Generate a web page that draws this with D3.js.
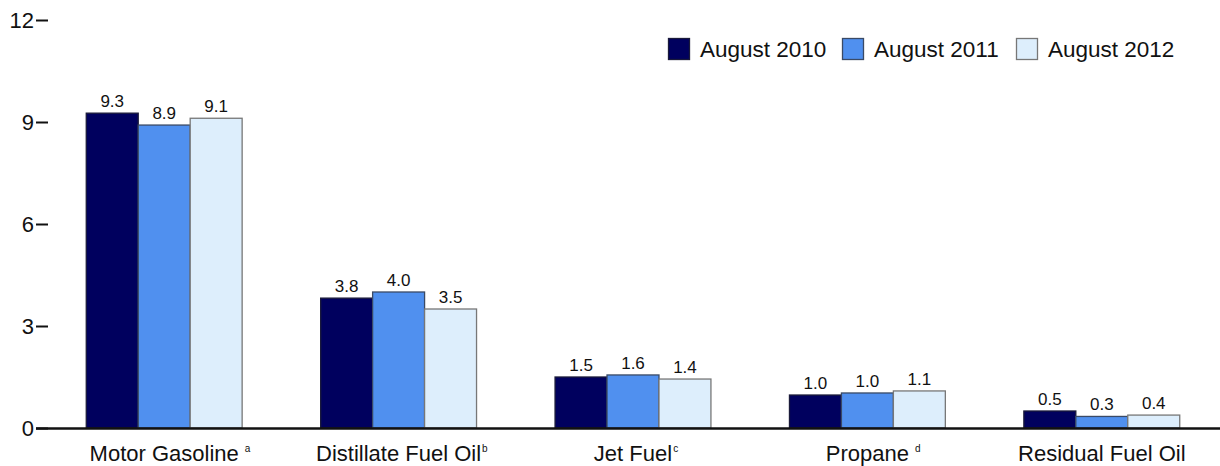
<!DOCTYPE html>
<html>
<head>
<meta charset="utf-8">
<script src="https://cdn.jsdelivr.net/npm/d3@7"></script>
<style>
  body { margin: 0; background: #fff; }
  svg { display: block; font-family: "Liberation Sans", Arial, sans-serif; }
</style>
</head>
<body>
<svg id="chart" width="1220" height="466"></svg>
<script>
// fuels and their footnote marks
var categories = ["Motor Gasoline", "Distillate Fuel Oil", "Jet Fuel", "Propane", "Residual Fuel Oil"];
var footnotes = ["a", "b", "c", "d", ""];
var series = ["August 2010", "August 2011", "August 2012"];

// values per series
var aug2010 = [9.26, 3.82, 1.50, 0.97, 0.50];
var aug2011 = [8.91, 4.00, 1.56, 1.03, 0.34];
var aug2012 = [9.11, 3.50, 1.44, 1.09, 0.38];

var yTicks = [0, 3, 6, 9, 12];

var fills = ["#00005e", "#5090ef", "#ddeefc"];
var strokes = ["#1a1a3a", "#3a4a66", "#777777"];

var svg = d3.select("#chart");

var x = d3.scaleBand()
  .domain(categories)
  .range([47, 1219])
  .paddingInner(0.335)
  .paddingOuter(0.1675);

var xs = d3.scaleBand()
  .domain(series)
  .range([0, x.bandwidth()]);

var y = d3.scaleLinear()
  .domain([0, 12])
  .range([428, 20]);

var values = [aug2010, aug2011, aug2012];
var rows = [];
categories.forEach(function(c, i) {
  series.forEach(function(s, j) {
    rows.push({cat: c, ser: s, idx: j, v: values[j][i]});
  });
});

// y axis (ticks only, no domain line)
var yAxis = svg.append("g")
  .attr("transform", "translate(48,0)")
  .call(d3.axisLeft(y).tickValues(yTicks).tickSize(12).tickPadding(2).tickFormat(d3.format("d")));
yAxis.select(".domain").remove();
yAxis.selectAll(".tick line").attr("stroke", "#111").attr("stroke-width", 2);
yAxis.selectAll(".tick text")
  .attr("fill", "#111")
  .style("font-size", "22px")
  .style("font-family", "Liberation Sans, Arial, sans-serif");

// bars
svg.append("g")
  .selectAll("rect")
  .data(rows)
  .enter()
  .append("rect")
  .attr("x", function(d) { return x(d.cat) + xs(d.ser); })
  .attr("y", function(d) { return y(d.v); })
  .attr("width", xs.bandwidth())
  .attr("height", function(d) { return y(0) - y(d.v); })
  .attr("fill", function(d) { return fills[d.idx]; })
  .attr("stroke", function(d) { return strokes[d.idx]; })
  .attr("stroke-width", 1.3);

// value labels
svg.append("g")
  .selectAll("text")
  .data(rows)
  .enter()
  .append("text")
  .attr("x", function(d) { return x(d.cat) + xs(d.ser) + xs.bandwidth() / 2; })
  .attr("y", function(d) { return y(d.v) - 6; })
  .attr("text-anchor", "middle")
  .attr("fill", "#111")
  .style("font-size", "17px")
  .text(function(d) { return d3.format(".1f")(d.v); });

// baseline
svg.append("line")
  .attr("x1", 36).attr("x2", 1220)
  .attr("y1", y(0) + 0.5).attr("y2", y(0) + 0.5)
  .attr("stroke", "#111")
  .attr("stroke-width", 2.5);

// category labels + superscript marks
var catG = svg.append("g");
categories.forEach(function(c, i) {
  var cx = x(c) + x.bandwidth() / 2;
  var t = catG.append("text")
    .attr("x", cx)
    .attr("y", 461)
    .attr("text-anchor", "middle")
    .attr("fill", "#111")
    .style("font-size", "22px")
    .text(c);
  if (footnotes[i]) {
    var w = t.node().getComputedTextLength();
    var gap = (i == 0 || i == 3) ? 6 : 1;
    catG.append("text")
      .attr("x", cx + w / 2 + gap)
      .attr("y", 452)
      .attr("fill", "#111")
      .style("font-size", "10px")
      .text(footnotes[i]);
  }
});

// legend
var legend = svg.append("g").attr("transform", "translate(668,38)");
series.forEach(function(s, j) {
  var item = legend.append("g").attr("transform", "translate(" + (j * 174) + ",0)");
  item.append("rect")
    .attr("x", 0.5).attr("y", 0.5)
    .attr("width", 21).attr("height", 21)
    .attr("fill", fills[j])
    .attr("stroke", strokes[j])
    .attr("stroke-width", 1.3);
  item.append("text")
    .attr("x", 32)
    .attr("y", 19)
    .attr("fill", "#111")
    .style("font-size", "22.5px")
    .text(s);
});
</script>
</body>
</html>
